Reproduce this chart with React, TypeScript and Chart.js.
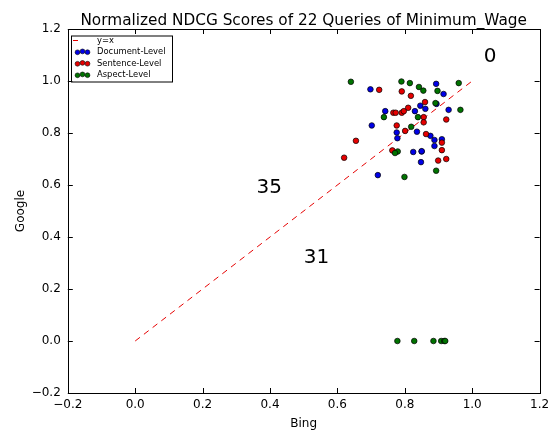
import { useEffect, useRef } from "react";
import { Chart, registerables } from "chart.js";
Chart.register(...registerables);

const TITLE = "Normalized NDCG Scores of 22 Queries of Minimum_Wage";
const X_LABEL = "Bing";
const Y_LABEL = "Google";

const docX = [0.698, 0.702, 0.720, 0.742, 0.776, 0.778, 0.830, 0.836, 0.825, 0.850, 0.848, 0.846, 0.861, 0.876, 0.888, 0.910, 0.888, 0.893, 0.915, 0.930, 0.894, 0.850];
const docY = [0.968, 0.829, 0.638, 0.884, 0.802, 0.780, 0.884, 0.805, 0.727, 0.729, 0.688, 0.905, 0.893, 0.789, 0.773, 0.776, 0.750, 0.989, 0.950, 0.889, 0.912, 0.730];

const sentX = [0.724, 0.791, 0.818, 0.860, 0.766, 0.773, 0.791, 0.810, 0.856, 0.856, 0.776, 0.801, 0.863, 0.910, 0.910, 0.899, 0.923, 0.923, 0.763, 0.620, 0.655, 0.797];
const sentY = [0.966, 0.960, 0.943, 0.919, 0.878, 0.878, 0.878, 0.897, 0.861, 0.841, 0.829, 0.808, 0.796, 0.763, 0.734, 0.694, 0.700, 0.852, 0.733, 0.705, 0.770, 0.884];

const aspX = [0.790, 0.815, 0.842, 0.855, 0.897, 0.960, 0.891, 0.965, 0.738, 0.839, 0.819, 0.779, 0.771, 0.893, 0.799, 0.640, 0.778, 0.828, 0.885, 0.908, 0.917, 0.920];
const aspY = [0.998, 0.992, 0.977, 0.963, 0.962, 0.992, 0.915, 0.889, 0.861, 0.861, 0.824, 0.729, 0.723, 0.655, 0.631, 0.997, 0.0, 0.0, 0.0, 0.0, 0.0, 0.0];

const lineX = [0, 1];
const lineY = [0, 1];

const xTicks = [-0.2, 0, 0.2, 0.4, 0.6, 0.8, 1.0, 1.2];
const yTicks = [-0.2, 0, 0.2, 0.4, 0.6, 0.8, 1.0, 1.2];

const annoText = ["0", "35", "31"];
const annoX = [1.034, 0.36, 0.50];
const annoY = [1.073, 0.57, 0.30];

const legendLabels = ["y=x", "Document-Level", "Sentence-Level", "Aspect-Level"];

const BLUE = "#0000e6";
const RED = "#e60000";
const GREEN = "#007300";
const FONT = "'DejaVu Sans', sans-serif";

const fmt = (v: number) => {
  const n = Math.abs(v) < 1e-9 ? 0 : v;
  return n.toFixed(1).replace("-", "\u2212");
};

const pts = (xs: number[], ys: number[]) => xs.map((x, i) => ({ x, y: ys[i] }));

const decor = {
  id: "decor",
  afterDraw(chart: any) {
    const ctx = chart.ctx as CanvasRenderingContext2D;
    const a = chart.chartArea;
    const xs = chart.scales.x;
    const ys = chart.scales.y;
    ctx.save();
    ctx.strokeStyle = "#000";
    ctx.lineWidth = 1;
    ctx.strokeRect(Math.round(a.left) + 0.5, Math.round(a.top) + 0.5, Math.round(a.right - a.left), Math.round(a.bottom - a.top));
    const tl = 5;
    ctx.beginPath();
    xTicks.forEach((t) => {
      const px = Math.round(xs.getPixelForValue(t)) + 0.5;
      ctx.moveTo(px, a.bottom);
      ctx.lineTo(px, a.bottom - tl);
      ctx.moveTo(px, a.top);
      ctx.lineTo(px, a.top + tl);
    });
    yTicks.forEach((t) => {
      const py = Math.round(ys.getPixelForValue(t)) + 0.5;
      ctx.moveTo(a.left, py);
      ctx.lineTo(a.left + tl, py);
      ctx.moveTo(a.right, py);
      ctx.lineTo(a.right - tl, py);
    });
    ctx.stroke();

    ctx.fillStyle = "#000";
    ctx.font = `15.3px ${FONT}`;
    ctx.textAlign = "center";
    ctx.textBaseline = "alphabetic";
    ctx.fillText(TITLE, (a.left + a.right) / 2, 25);
    ctx.font = `12px ${FONT}`;
    ctx.fillText(X_LABEL, (a.left + a.right) / 2, 427);
    ctx.save();
    ctx.translate(24, (a.top + a.bottom) / 2);
    ctx.rotate(-Math.PI / 2);
    ctx.fillText(Y_LABEL, 0, 0);
    ctx.restore();

    ctx.font = `20px ${FONT}`;
    ctx.textAlign = "left";
    annoText.forEach((t, i) => {
      ctx.fillText(t, xs.getPixelForValue(annoX[i]), ys.getPixelForValue(annoY[i]));
    });

    const bx = 71, by = 35.5, bw = 101, bh = 46;
    ctx.fillStyle = "#fff";
    ctx.fillRect(bx, by, bw, bh);
    ctx.strokeStyle = "#000";
    ctx.lineWidth = 1;
    ctx.strokeRect(bx + 0.5, by + 0.5, bw, bh);
    const rows = [40.5, 52, 63.5, 75];
    ctx.font = `8.4px ${FONT}`;
    ctx.textBaseline = "middle";
    ctx.fillStyle = "#000";
    legendLabels.forEach((l, i) => ctx.fillText(l, 97, rows[i]));
    ctx.strokeStyle = RED;
    ctx.beginPath();
    ctx.moveTo(73, rows[0]);
    ctx.lineTo(78, rows[0]);
    ctx.stroke();
    const cols = [BLUE, RED, GREEN];
    const dxs = [77.5, 82.5, 87.5];
    const dys = [0.3, -0.6, 0.2];
    cols.forEach((c, i) => {
      dxs.forEach((dx, j) => {
        ctx.beginPath();
        ctx.arc(dx, rows[i + 1] + dys[j], 2.4, 0, Math.PI * 2);
        ctx.fillStyle = c;
        ctx.fill();
        ctx.strokeStyle = "#000";
        ctx.lineWidth = 0.6;
        ctx.stroke();
      });
    });
    ctx.restore();
  },
};

export default function App() {
  const ref = useRef<HTMLCanvasElement>(null);
  useEffect(() => {
    if (!ref.current) return;
    const pointStyle = (color: string, order: number, label: string, xs: number[], ys: number[]) => ({
      type: "scatter" as const,
      label,
      data: pts(xs, ys),
      backgroundColor: color,
      borderColor: "#000",
      borderWidth: 0.7,
      pointRadius: 2.8,
      order,
    });
    const chart = new Chart(ref.current, {
      type: "scatter",
      data: {
        datasets: [
          {
            type: "line",
            label: "y=x",
            data: pts(lineX, lineY),
            borderColor: RED,
            borderWidth: 1,
            borderDash: [6, 5],
            pointRadius: 0,
            showLine: true,
            fill: false,
            order: 3,
          } as any,
          pointStyle(BLUE, 2, "Document-Level", docX, docY),
          pointStyle(RED, 1, "Sentence-Level", sentX, sentY),
          pointStyle(GREEN, 0, "Aspect-Level", aspX, aspY),
        ],
      },
      options: {
        responsive: false,
        animation: false,
        devicePixelRatio: 1,
        layout: { padding: { top: 29, right: 15.4, bottom: 0, left: 0 } },
        plugins: { legend: { display: false }, title: { display: false }, tooltip: { enabled: false } },
        scales: {
          x: {
            type: "linear",
            min: -0.2,
            max: 1.2,
            afterBuildTicks: (s: any) => {
              s.ticks = xTicks.map((v) => ({ value: v }));
            },
            afterFit: (s: any) => {
              s.height = 38;
            },
            grid: { display: false, drawTicks: false },
            border: { display: false },
            ticks: {
              padding: 5,
              color: "#000",
              font: { family: FONT, size: 12 },
              callback: (v: any) => fmt(Number(v)),
              maxRotation: 0,
              autoSkip: false,
            },
          },
          y: {
            type: "linear",
            min: -0.2,
            max: 1.2,
            afterBuildTicks: (s: any) => {
              s.ticks = yTicks.map((v) => ({ value: v }));
            },
            afterFit: (s: any) => {
              s.width = 67.8;
            },
            grid: { display: false, drawTicks: false },
            border: { display: false },
            ticks: {
              padding: 7,
              color: "#000",
              font: { family: FONT, size: 12 },
              callback: (v: any) => fmt(Number(v)),
              autoSkip: false,
            },
          },
        },
      },
      plugins: [decor],
    });
    return () => chart.destroy();
  }, []);
  return (
    <div style={{ position: "absolute", left: 0, top: 0, width: 555, height: 431, background: "#fff" }}>
      <canvas ref={ref} width={555} height={431} style={{ width: 555, height: 431 }} />
    </div>
  );
}
